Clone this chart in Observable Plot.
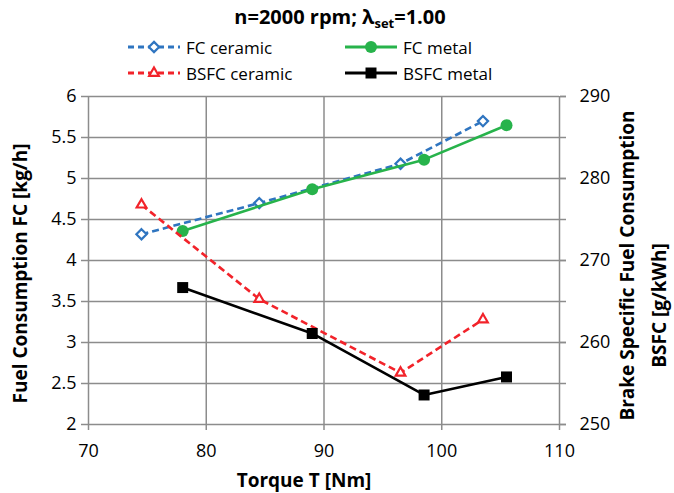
<!DOCTYPE html>
<html><head><meta charset="utf-8">
<script src="https://cdn.jsdelivr.net/npm/d3@7"></script>
<script src="https://cdn.jsdelivr.net/npm/@observablehq/plot@0.6"></script>
<style>
body{margin:0;background:#fff;font-family:"Open Sans",sans-serif;}
#wrap{position:relative;width:674px;height:493px;}
#title{position:absolute;left:0;width:680px;top:4px;text-align:center;font-weight:bold;font-size:20px;line-height:25px;}
#title sub{font-size:13px;vertical-align:-4px;line-height:0;}
.leg{position:absolute;display:flex;align-items:center;font-size:17px;height:20px;}
.leg svg{margin-right:6px;}
#chart{position:absolute;left:0;top:0;}
</style></head><body>
<div id="wrap"><div id="chart"></div><div id="title">n=2000 rpm; λ<sub>set</sub>=1.00</div></div>
<script>
// ---- data ----
const torqueCeramic = [74.5, 84.5, 96.5, 103.5];
const torqueMetal = [78, 89, 98.5, 105.5];
const fcCeramic = [4.32, 4.70, 5.18, 5.70];      // kg/h
const fcMetal = [4.36, 4.87, 5.23, 5.65];        // kg/h
const bsfcCeramic = [276.8, 265.3, 256.3, 262.8]; // g/kWh
const bsfcMetal = [266.7, 261.1, 253.6, 255.8];   // g/kWh
const seriesNames = ["FC ceramic", "FC metal", "BSFC ceramic", "BSFC metal"];
const xTicks = [70, 80, 90, 100, 110];
const yTicks = [2, 2.5, 3, 3.5, 4, 4.5, 5, 5.5, 6];
const rightTickLabels = [250, 260, 270, 280, 290];

// secondary axis (BSFC 250..290) mapped onto primary (FC 2..6)
const bsfcDomain = [250, 290], fcDomain = [2, 6];
const toPrimary = b => fcDomain[0] + (b - bsfcDomain[0]) / (bsfcDomain[1] - bsfcDomain[0]) * (fcDomain[1] - fcDomain[0]);
const rightTickPos = rightTickLabels.map(toPrimary);

const colors = ["#2f75c0", "#27b34b", "#f2232a", "#000000"];
const dashes = ["7,4", null, "7,4", null];
const symbols = ["diamond2", "circle", "triangle2", "square"];
const d3symbols = [d3.symbolDiamond2, d3.symbolCircle, d3.symbolTriangle2, d3.symbolSquare];
const radii = [4.6, 6, 4.6, 6.2];
const filled = [false, true, false, true];

const mk = (xs, ys) => xs.map((x, i) => ({x, y: ys[i]}));
const series = [
  mk(torqueCeramic, fcCeramic),
  mk(torqueMetal, fcMetal),
  mk(torqueCeramic, bsfcCeramic.map(toPrimary)),
  mk(torqueMetal, bsfcMetal.map(toPrimary))
];

const grid = "#8c8c8c";
const marks = [
  Plot.gridX(xTicks, {stroke: grid, strokeOpacity: 1, strokeWidth: 1.5}),
  Plot.gridY(yTicks, {stroke: grid, strokeOpacity: 1, strokeWidth: 1.5}),
  Plot.axisX(xTicks, {tickSize: 6, tickPadding: 14, stroke: grid, strokeWidth: 1.5, fill: "black", label: null, fontSize: 18}),
  Plot.axisY(yTicks, {anchor: "left", tickSize: 7, tickPadding: 5, stroke: grid, strokeWidth: 1.5, fill: "black", label: null, fontSize: 18, tickFormat: d => String(d)}),
  Plot.axisY(yTicks, {anchor: "right", tickSize: 6, tickFormat: () => "", stroke: grid, strokeWidth: 1.5, label: null}),
  Plot.axisY(rightTickPos, {anchor: "right", tickSize: 6, tickPadding: 14, stroke: grid, strokeWidth: 1.5, fill: "black", label: null, fontSize: 18,
    tickFormat: d => rightTickLabels[rightTickPos.findIndex(v => Math.abs(v - d) < 1e-9)]}),
  Plot.text(["Fuel Consumption FC [kg/h]"], {frameAnchor: "left", dx: -68, dy: 13, rotate: -90, textAnchor: "middle", lineAnchor: "middle", fontWeight: "bold", fontSize: 19}),
  Plot.text(["Brake Specific Fuel Consumption"], {frameAnchor: "right", dx: 68, dy: 5, rotate: -90, textAnchor: "middle", lineAnchor: "middle", fontWeight: "bold", fontSize: 19}),
  Plot.text(["BSFC [g/kWh]"], {frameAnchor: "right", dx: 100, dy: 45, rotate: -90, textAnchor: "middle", lineAnchor: "middle", fontWeight: "bold", fontSize: 19}),
  Plot.text(["Torque T [Nm]"], {frameAnchor: "bottom", dx: -20, dy: 56, textAnchor: "middle", lineAnchor: "middle", fontWeight: "bold", fontSize: 19})
];
series.forEach((data, i) => {
  marks.push(Plot.line(data, {x: "x", y: "y", stroke: colors[i], strokeWidth: 2.6, strokeDasharray: dashes[i], strokeLinecap: "butt"}));
  marks.push(Plot.dot(data, {x: "x", y: "y", symbol: () => symbols[i], r: radii[i],
    stroke: colors[i], strokeWidth: filled[i] ? 0 : 2.2, fill: filled[i] ? colors[i] : "white"}));
});

const chart = Plot.plot({
  width: 674, height: 493,
  marginTop: 96, marginBottom: 69, marginLeft: 88, marginRight: 115,
  style: {fontFamily: "'Open Sans', sans-serif", fontSize: "18px", color: "black", background: "white", overflow: "visible"},
  x: {domain: [70, 110]},
  y: {domain: fcDomain},
  symbol: {type: "identity"},
  marks
});
document.getElementById("chart").appendChild(chart);

// legend
const wrap = document.getElementById("wrap");
const legX = [128, 345], legY = [37, 63];
seriesNames.forEach((name, i) => {
  const div = document.createElement("div");
  div.className = "leg";
  div.style.left = legX[i % 2] + "px";
  div.style.top = legY[Math.floor(i / 2)] + "px";
  const ns = "http://www.w3.org/2000/svg";
  const svg = document.createElementNS(ns, "svg");
  svg.setAttribute("width", 52); svg.setAttribute("height", 20);
  const line = document.createElementNS(ns, "line");
  line.setAttribute("x1", 0); line.setAttribute("x2", 52);
  line.setAttribute("y1", 10); line.setAttribute("y2", 10);
  line.setAttribute("stroke", colors[i]); line.setAttribute("stroke-width", 3);
  if (dashes[i]) line.setAttribute("stroke-dasharray", "6,4");
  svg.appendChild(line);
  const p = document.createElementNS(ns, "path");
  p.setAttribute("d", d3.symbol(d3symbols[i], Math.PI * radii[i] * radii[i])());
  p.setAttribute("transform", "translate(26,10)");
  p.setAttribute("fill", filled[i] ? colors[i] : "white");
  p.setAttribute("stroke", colors[i]);
  p.setAttribute("stroke-width", filled[i] ? 0 : 2.2);
  svg.appendChild(p);
  div.appendChild(svg);
  const span = document.createElement("span");
  span.textContent = name;
  div.appendChild(span);
  wrap.appendChild(div);
});
</script>
</body></html>
